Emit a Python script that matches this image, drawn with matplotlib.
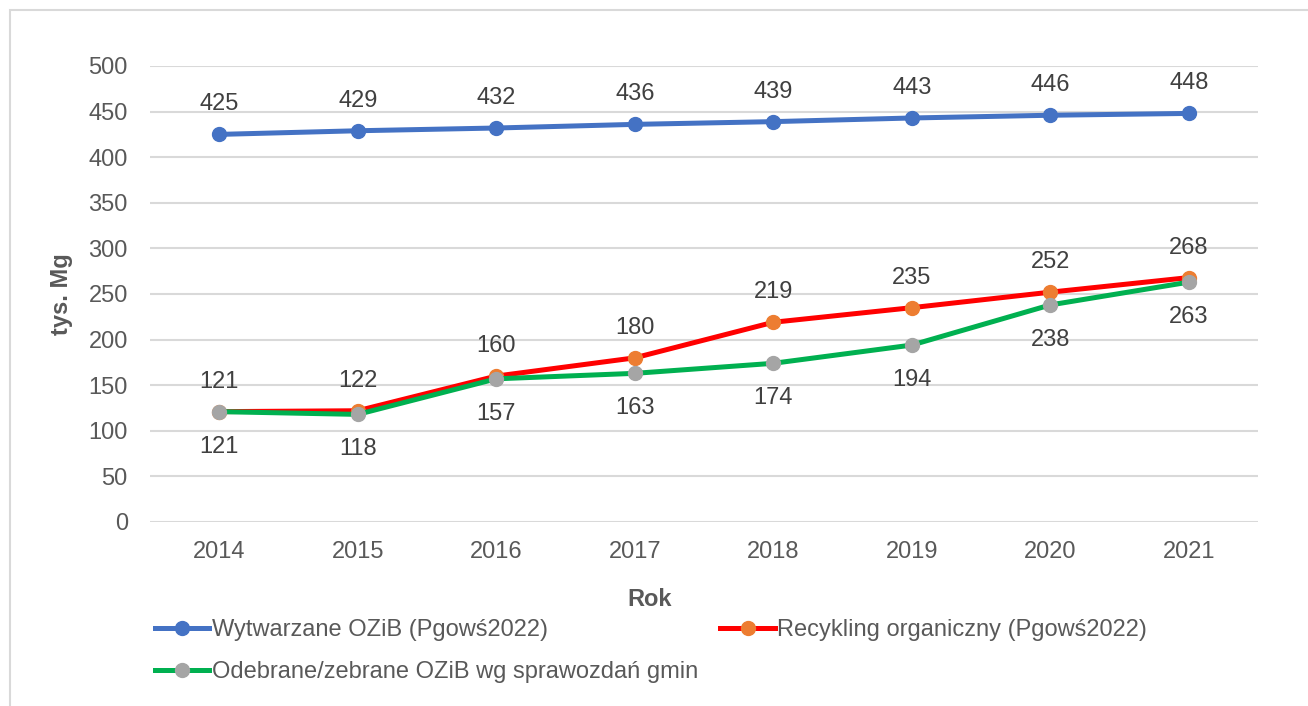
import matplotlib.pyplot as plt
from matplotlib.patches import Rectangle

plt.rcParams['font.family'] = ['Liberation Sans', 'DejaVu Sans']

years = ['2014', '2015', '2016', '2017', '2018', '2019', '2020', '2021']
wytwarzane = [425, 429, 432, 436, 439, 443, 446, 448]
recykling = [121, 122, 160, 180, 219, 235, 252, 268]
odebrane = [121, 118, 157, 163, 174, 194, 238, 263]

labels = ['Wytwarzane OZiB (Pgowś2022)',
          'Recykling organiczny (Pgowś2022)',
          'Odebrane/zebrane OZiB wg sprawozdań gmin']

txt = '#595959'
fs = 17

fig = plt.figure(figsize=(13.08, 7.06), dpi=100)
ax = fig.add_axes([150 / 1308, 1 - 522 / 706, (1258 - 150) / 1308, (522 - 66) / 706])

x = range(len(years))
l1, = ax.plot(x, wytwarzane, color='#4472C4', lw=3.6, marker='o', ms=10,
              mfc='#4472C4', mec='#4472C4', zorder=3)
l2, = ax.plot(x, recykling, color='#FF0000', lw=3.6, marker='o', ms=10,
              mfc='#ED7D31', mec='#ED7D31', zorder=3)
l3, = ax.plot(x, odebrane, color='#00B050', lw=3.6, marker='o', ms=10,
              mfc='#A5A5A5', mec='#A5A5A5', zorder=4)

# data labels
for i in x:
    ax.annotate(str(wytwarzane[i]), (i, wytwarzane[i]), xytext=(0, 30),
                textcoords='offset pixels', ha='center', va='center',
                fontsize=fs, color='#404040')
    ax.annotate(str(recykling[i]), (i, recykling[i]), xytext=(0, 30),
                textcoords='offset pixels', ha='center', va='center',
                fontsize=fs, color='#404040')
    ax.annotate(str(odebrane[i]), (i, odebrane[i]), xytext=(0, -35),
                textcoords='offset pixels', ha='center', va='center',
                fontsize=fs, color='#404040')

ax.set_xlim(-0.5, 7.5)
ax.set_ylim(0, 500)
ax.set_yticks(range(0, 501, 50))
ax.set_xticks(list(x))
ax.set_xticklabels(years)
ax.grid(axis='y', color='#D9D9D9', lw=1.5)
ax.set_axisbelow(True)
for s in ax.spines.values():
    s.set_visible(False)
ax.tick_params(length=0, labelsize=fs, labelcolor=txt)
ax.tick_params(axis='x', pad=14)
ax.tick_params(axis='y', pad=16)

ax.set_ylabel('tys. Mg', fontsize=fs, fontweight='bold', color=txt, labelpad=11)
fig.text(650 / 1308, 1 - 600 / 706, 'Rok', fontsize=fs, fontweight='bold',
         color=txt, ha='center', va='center')

leg = fig.legend([l1, l3, l2], [labels[0], labels[2], labels[1]], ncol=2,
                 loc='upper left', bbox_to_anchor=(155 / 1308, 1 - 619 / 706),
                 frameon=False, fontsize=fs, handlelength=2.3, handletextpad=0.1,
                 columnspacing=0.95, labelspacing=0.85, borderpad=0, borderaxespad=0)
for t in leg.get_texts():
    t.set_color(txt)

# outer chart border (top and left only visible)
fig.patches.append(Rectangle((10 / 1308, -0.1), 1.2, 0.1 + (706 - 10) / 706,
                             transform=fig.transFigure, fill=False,
                             ec='#D9D9D9', lw=1.5))

fig.savefig('out.png', dpi=100)
